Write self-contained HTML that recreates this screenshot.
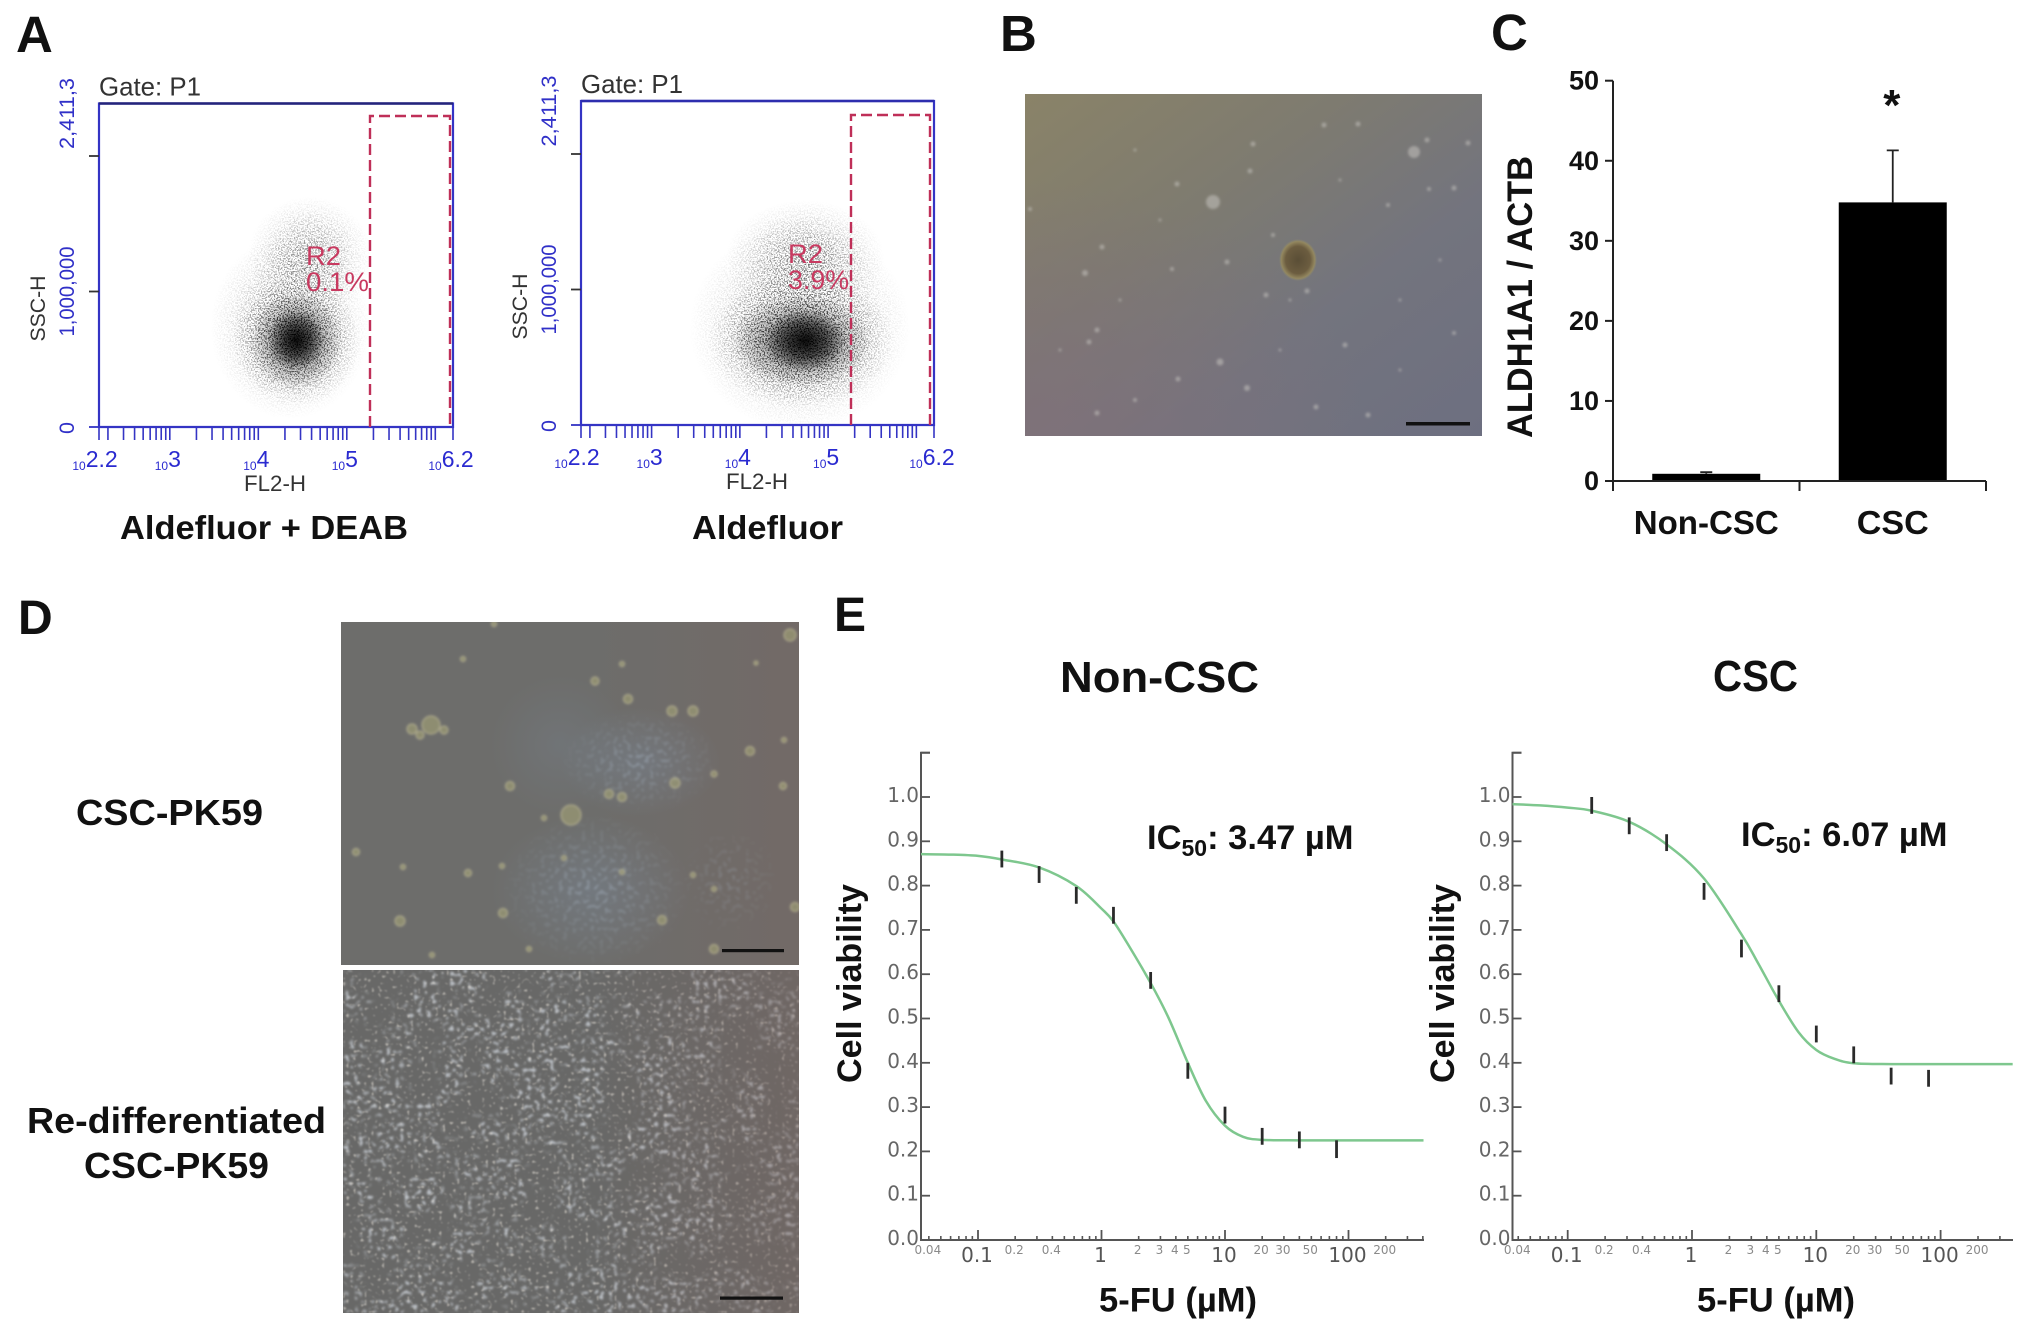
<!DOCTYPE html>
<html lang="en">
<head>
<meta charset="utf-8">
<title>Aldefluor, sphere formation, ALDH1A1 and 5-FU viability figure</title>
<style>
html,body{margin:0;padding:0;background:#fff}
svg{display:block}
text{font-family:"Liberation Sans",sans-serif}
.b{font-weight:bold;fill:#111}
.dj{font-family:"DejaVu Sans",sans-serif}
</style>
</head>
<body>
<svg id="fig" xmlns="http://www.w3.org/2000/svg" width="2031" height="1338" viewBox="0 0 2031 1338">
<defs>
  <radialGradient id="blob"><stop offset="0" stop-color="#000" stop-opacity="1"/><stop offset=".5" stop-color="#000" stop-opacity=".6"/><stop offset="1" stop-color="#000" stop-opacity="0"/></radialGradient>
  <radialGradient id="softBlob"><stop offset="0" stop-color="#000" stop-opacity="1"/><stop offset=".45" stop-color="#000" stop-opacity=".55"/><stop offset=".75" stop-color="#000" stop-opacity=".18"/><stop offset="1" stop-color="#000" stop-opacity="0"/></radialGradient>
  <filter id="grain" x="0" y="0" width="2031" height="600" filterUnits="userSpaceOnUse">
    <feTurbulence type="fractalNoise" baseFrequency="0.7" numOctaves="2" seed="7" result="n"/>
    <feColorMatrix in="n" type="matrix" values="0 0 0 0 0 0 0 0 0 0 0 0 0 0 0 8 0 0 0 -3.9" result="m"/>
    <feComposite in="SourceGraphic" in2="m" operator="in"/>
  </filter>
  <linearGradient id="bBase" x1="0" y1="0" x2="1" y2="1">
    <stop offset="0" stop-color="#8a8368"/><stop offset=".35" stop-color="#7e7b70"/><stop offset=".65" stop-color="#73747e"/><stop offset="1" stop-color="#6d6f80"/>
  </linearGradient>
  <radialGradient id="bLeft" cx="0" cy="1" r=".75"><stop offset="0" stop-color="#80707a" stop-opacity=".8"/><stop offset="1" stop-color="#80707a" stop-opacity="0"/></radialGradient>
  <radialGradient id="sphere"><stop offset="0" stop-color="#5a4e36"/><stop offset=".65" stop-color="#6c5d40"/><stop offset=".88" stop-color="#93875f"/><stop offset="1" stop-color="#8c8a70" stop-opacity="0"/></radialGradient>
  <radialGradient id="patch"><stop offset="0" stop-color="#7c8a9c" stop-opacity=".4"/><stop offset="1" stop-color="#7c8a9c" stop-opacity="0"/></radialGradient>
  <radialGradient id="patchBright"><stop offset="0" stop-color="#aebccb" stop-opacity=".85"/><stop offset=".5" stop-color="#aebccb" stop-opacity=".45"/><stop offset="1" stop-color="#aebccb" stop-opacity="0"/></radialGradient>
  <linearGradient id="dEdge" x1="0" y1="0" x2="1" y2="0"><stop offset=".55" stop-color="#7a6560" stop-opacity="0"/><stop offset="1" stop-color="#7a6560" stop-opacity=".4"/></linearGradient>
  <filter id="soft" x="-5%" y="-5%" width="110%" height="110%"><feGaussianBlur stdDeviation="1.2"/></filter>
  <filter id="cellsA" x="343" y="970" width="456" height="343" filterUnits="userSpaceOnUse">
    <feTurbulence type="fractalNoise" baseFrequency="0.22" numOctaves="1" seed="11" result="hi"/>
    <feColorMatrix in="hi" type="matrix" values="0 0 0 0 .68 0 0 0 0 .72 0 0 0 0 .78 7 0 0 0 -3.9" result="dots"/>
    <feTurbulence type="fractalNoise" baseFrequency="0.025" numOctaves="2" seed="3" result="lo"/>
    <feColorMatrix in="lo" type="matrix" values="0 0 0 0 1 0 0 0 0 1 0 0 0 0 1 5 0 0 0 -1.9" result="mask"/>
    <feComposite in="dots" in2="mask" operator="in" result="c"/>
    <feGaussianBlur in="c" stdDeviation="1"/>
  </filter>
  <filter id="cellsB" x="343" y="970" width="456" height="343" filterUnits="userSpaceOnUse">
    <feTurbulence type="fractalNoise" baseFrequency="0.28" numOctaves="1" seed="23"/>
    <feColorMatrix type="matrix" values="0 0 0 0 .76 0 0 0 0 .72 0 0 0 0 .66 8 0 0 0 -5.0"/>
    <feGaussianBlur stdDeviation="0.8"/>
  </filter>
  <filter id="cellsC" x="341" y="622" width="458" height="343" filterUnits="userSpaceOnUse">
    <feTurbulence type="fractalNoise" baseFrequency="0.22" numOctaves="1" seed="5" result="n"/>
    <feColorMatrix in="n" type="matrix" values="0 0 0 0 0 0 0 0 0 0 0 0 0 0 0 7 0 0 0 -3.7" result="m"/>
    <feComposite in="SourceGraphic" in2="m" operator="in" result="c"/>
    <feGaussianBlur in="c" stdDeviation="1"/>
  </filter>
  <clipPath id="clipDTop"><rect x="341" y="622" width="458" height="343"/></clipPath>
  <clipPath id="clipB"><rect x="1025" y="94" width="457" height="342"/></clipPath>
</defs>

<rect width="2031" height="1338" fill="#fff"/>

<text class="b" x="16" y="52" font-size="51">A</text>
<text class="b" x="1000" y="51" font-size="51">B</text>
<text class="b" x="1491" y="50" font-size="51">C</text>
<text class="b" x="18" y="634" font-size="48">D</text>
<text class="b" x="834" y="631" font-size="48">E</text>

<g id="panelA"></g>
<text class="b" x="120" y="539" font-size="33" textLength="288" lengthAdjust="spacingAndGlyphs">Aldefluor + DEAB</text>
<text class="b" x="692" y="539" font-size="33" textLength="151" lengthAdjust="spacingAndGlyphs">Aldefluor</text>

<g id="panelB" clip-path="url(#clipB)">
  <rect x="1025" y="94" width="457" height="342" fill="url(#bBase)"/>
  <rect x="1025" y="94" width="457" height="342" fill="url(#bLeft)"/>
  <g id="bSpots" filter="url(#soft)"></g>
  <ellipse cx="1298" cy="260" rx="19" ry="21" fill="url(#sphere)"/>
  <rect x="1406" y="422" width="64" height="3.5" fill="#111"/>
</g>

<g id="panelC"></g>

<text class="b" x="76" y="825" font-size="36" textLength="187" lengthAdjust="spacingAndGlyphs">CSC-PK59</text>
<text class="b" x="27" y="1133" font-size="36" textLength="299" lengthAdjust="spacingAndGlyphs">Re-differentiated</text>
<text class="b" x="84" y="1178" font-size="36" textLength="185" lengthAdjust="spacingAndGlyphs">CSC-PK59</text>

<g id="panelDTop" clip-path="url(#clipDTop)">
  <rect x="341" y="622" width="458" height="343" fill="#6d6d6b"/>
  <rect x="341" y="622" width="458" height="343" fill="url(#dEdge)"/>
  <ellipse cx="591" cy="890" rx="100" ry="75" fill="url(#patch)"/>
  <ellipse cx="640" cy="762" rx="80" ry="55" fill="url(#patch)"/>
  <ellipse cx="560" cy="745" rx="70" ry="70" fill="url(#patch)" opacity=".6"/>
  <g filter="url(#cellsC)" opacity=".42">
    <ellipse cx="595" cy="890" rx="95" ry="78" fill="url(#patchBright)"/>
    <ellipse cx="640" cy="762" rx="80" ry="50" fill="url(#patchBright)"/>
    <ellipse cx="730" cy="880" rx="50" ry="55" fill="url(#patchBright)" opacity=".6"/>
  </g>
  <g id="dSpots" filter="url(#soft)"></g>
  <rect x="722" y="949" width="62" height="3.2" fill="#111"/>
</g>

<g id="panelDBottom">
  <rect x="343" y="970" width="456" height="343" fill="#686867"/>
  <rect x="343" y="970" width="456" height="343" fill="#fff" filter="url(#cellsA)" opacity=".75"/>
  <rect x="343" y="970" width="456" height="343" fill="#fff" filter="url(#cellsB)" opacity=".6"/>
  <rect x="343" y="970" width="456" height="343" fill="url(#dEdge)"/>
  <rect x="720" y="1296.5" width="63" height="3.2" fill="#111"/>
</g>

<g id="panelE"></g>

<script>
/* ---------- Panel A data ---------- */
var flowDecades = [2, 3, 4, 5, 6];
var flowMultipliers = [1, 2, 3, 4, 5, 6, 7, 8, 9];
var flowDecadeLabels = ['2.2', '3', '4', '5', '6.2'];
var flowDecadeLabelPowers = [2.2, 3, 4, 5, 6.2];
var flowSscTicks = [0, 1000000, 2000000];
/* clusters: log10 FL2, SSC, log span, SSC span, density, grainy(1)/solid(0) */
var flowClustersDeab = [
  [4.36, 740000, 0.90, 680000, 0.55, 1],
  [4.58, 1260000, 0.70, 440000, 0.50, 1],
  [4.43, 640000, 0.72, 480000, 0.95, 1],
  [4.43, 640000, 0.52, 360000, 0.45, 0],
  [4.43, 640000, 0.32, 220000, 0.90, 0]
];
var flowClustersAldefluor = [
  [4.68, 720000, 1.25, 760000, 0.55, 1],
  [4.74, 1230000, 0.90, 430000, 0.50, 1],
  [4.70, 620000, 1.05, 500000, 0.95, 1],
  [4.70, 620000, 0.78, 340000, 0.45, 0],
  [4.74, 620000, 0.46, 230000, 0.90, 0]
];

/* ---------- Panel C data ---------- */
var barCategories = ['Non-CSC', 'CSC'];
var barValues = [0.9, 34.8];
var barErrors = [0.2, 6.5];
var barTicks = [0, 10, 20, 30, 40, 50];

/* ---------- Panel E data ---------- */
var viabilityTicks = [0, 0.1, 0.2, 0.3, 0.4, 0.5, 0.6, 0.7, 0.8, 0.9, 1.0, 1.1];
var viabilityTickLabels = ['0.0', '0.1', '0.2', '0.3', '0.4', '0.5', '0.6', '0.7', '0.8', '0.9', '1.0', ''];
var doseDecades = [-2, -1, 0, 1, 2];
var doseMultipliers = [1, 2, 3, 4, 5, 6, 7, 8, 9];
var doseMajorLabels = [0.1, 1, 10, 100];
var doseMajorText = ['0.1', '1', '10', '100'];
var doseMinorLabels = [0.04, 0.2, 0.4, 2, 3, 4, 5, 20, 30, 50, 200];
var doseMinorText = ['0.04', '0.2', '0.4', '2', '3', '4', '5', '20', '30', '50', '200'];
var measuredDoses = [0.156, 0.3125, 0.625, 1.25, 2.5, 5, 10, 20, 40, 80];
var nonCscMeans = [0.860, 0.825, 0.778, 0.733, 0.586, 0.382, 0.282, 0.234, 0.226, 0.205];
var nonCscErr = [0.019, 0.019, 0.019, 0.019, 0.019, 0.018, 0.019, 0.019, 0.019, 0.020];
var nonCscCurveDoses = [0.034, 0.06, 0.1, 0.156, 0.3125, 0.625, 1, 1.25, 1.7, 2.5, 3.47, 5, 7, 10, 14, 20, 40, 100, 405];
var nonCscCurve = [0.871, 0.870, 0.867, 0.859, 0.841, 0.799, 0.748, 0.719, 0.660, 0.580, 0.503, 0.400, 0.314, 0.258, 0.233, 0.226, 0.225, 0.225, 0.225];
var cscMeans = [0.981, 0.935, 0.897, 0.787, 0.658, 0.556, 0.465, 0.418, 0.370, 0.365];
var cscErr = [0.019, 0.019, 0.019, 0.019, 0.020, 0.019, 0.019, 0.019, 0.019, 0.019];
var cscCurveDoses = [0.035, 0.06, 0.1, 0.156, 0.3125, 0.625, 1.25, 2.5, 3.4, 5, 7.2, 10, 14, 20, 40, 100, 380];
var cscCurve = [0.984, 0.981, 0.976, 0.969, 0.944, 0.893, 0.816, 0.690, 0.625, 0.540, 0.469, 0.429, 0.409, 0.399, 0.397, 0.397, 0.397];

var NS = 'http://www.w3.org/2000/svg';
function add(parent, tag, attrs, text) {
  var el = document.createElementNS(NS, tag);
  for (var k in attrs) el.setAttribute(k, attrs[k]);
  if (text !== undefined) el.textContent = text;
  parent.appendChild(el);
  return el;
}
function lg(v) { return Math.log(v) / Math.LN10; }

/* ---------- Panel A ---------- */
function drawFlow(p) {
  var g = document.getElementById('panelA');
  var xF = function (l) { return p.x0 + (l - 2.2) * (p.x1 - p.x0) / 4; };
  var yF = function (s) { return p.y0 - s / 1000000 * 135.5; };
  var BLUE = '#3434c4';
  var cloud = add(g, 'g', {});
  
  
  var grainy = add(cloud, 'g', { filter: 'url(#grain)' });
  
  
  var solid = add(cloud, 'g', {});
  
  
  p.clusters.forEach(function (c) {
    var e = add(c[5] ? grainy : solid, 'ellipse', {
      cx: xF(c[0]), cy: yF(c[1]),
      rx: c[2] * (p.x1 - p.x0) / 4, ry: c[3] / 1000000 * 135.5,
      fill: c[5] ? 'url(#softBlob)' : 'url(#blob)', opacity: c[4]
    });
    
    
  });
  var frame = add(g, 'path', {
    d: 'M' + p.x0 + ' ' + p.y0 + 'V' + p.yTop + 'H' + p.x1 + 'V' + p.y0 + 'Z',
    fill: 'none', stroke: BLUE, 'stroke-width': 2.2
  });
  
  
  var top = add(g, 'line', { x1: p.x0, x2: p.x1, y1: p.yTop, y2: p.yTop, stroke: p.topColor, 'stroke-width': 2.6 });
  
  
  var gate = add(g, 'path', {
    d: 'M' + p.gx0 + ' ' + p.y0 + 'V' + p.gy + 'H' + p.gx1 + 'V' + p.y0,
    fill: 'none', stroke: '#bf2f58', 'stroke-width': 2.4, 'stroke-dasharray': '11 5'
  });
  
  
  flowDecades.forEach(function (d) {
    flowMultipliers.forEach(function (m) {
      var v = m * Math.pow(10, d), l = lg(v);
      if (l < 2.2 || l > 6.2) return;
      var t = add(g, 'line', { x1: xF(l), x2: xF(l), y1: p.y0, y2: p.y0 + 13, stroke: BLUE, 'stroke-width': 1.6 });
      
      
    });
  });
  [2.2, 6.2].forEach(function (l) {
    var t = add(g, 'line', { x1: xF(l), x2: xF(l), y1: p.y0, y2: p.y0 + 13, stroke: BLUE, 'stroke-width': 1.6 });
    
    
  });
  flowSscTicks.forEach(function (s) {
    var t = add(g, 'line', { x1: p.x0 - 10, x2: p.x0, y1: yF(s), y2: yF(s), stroke: s === 0 ? BLUE : '#333', 'stroke-width': 1.8 });
    
    
  });
  flowDecadeLabels.forEach(function (txt, i) {
    var l = flowDecadeLabelPowers[i];
    var cx = xF(l) + (i === 0 ? -4 : -2);
    var wrap = add(g, 'text', { x: cx, y: p.y0 + 40, 'text-anchor': 'middle', fill: '#2a2ad0', 'font-size': 23 });
    
    
    var a = add(wrap, 'tspan', { 'font-size': 12, dy: 3 }, '10');
    
    
    var b = add(wrap, 'tspan', { dy: -3 }, txt);
    
    
  });
  var rot = function (txt, x, y, len, color, name) {
    var t = add(g, 'text', {
      x: 0, y: 0, transform: 'translate(' + x + ' ' + y + ') rotate(-90)',
      'text-anchor': 'middle', fill: color, 'font-size': 21,
      textLength: len, lengthAdjust: 'spacingAndGlyphs'
    }, txt);
    
    
  };
  var tx = p.x0 - 25;
  rot('2,411,3', tx, p.yTop + 10, 71, '#3030c8', 'y-max-label');
  rot('1,000,000', tx, yF(1000000), 90, '#3030c8', 'y-mid-label');
  rot('0', tx, yF(0) + 1, 12, '#3030c8', 'y-zero-label');
  rot('SSC-H', p.x0 - 54, yF(1000000) + 17, 66, '#333', 'y-axis-title');
  var fl = add(g, 'text', { x: p.x0 + 176, y: p.y0 + 64, 'text-anchor': 'middle', fill: '#333', 'font-size': 22, textLength: 62, lengthAdjust: 'spacingAndGlyphs' }, 'FL2-H');
  
  
  var gateTxt = add(g, 'text', { x: p.x0, y: p.yTop - 8, fill: '#333', 'font-size': 26, textLength: 102, lengthAdjust: 'spacingAndGlyphs' }, 'Gate: P1');
  
  
  var r2 = add(g, 'text', { x: p.rx, y: p.ry, fill: '#c83a60', 'font-size': 27, textLength: 35, lengthAdjust: 'spacingAndGlyphs' }, 'R2');
  
  
  var pct = add(g, 'text', { x: p.rx, y: p.ry + 26, fill: '#c83a60', 'font-size': 27, textLength: p.pctW, lengthAdjust: 'spacingAndGlyphs' }, p.pct);
  
  
}
drawFlow({ id: 'deab', clusters: flowClustersDeab, x0: 99, x1: 453, y0: 427, yTop: 103.5, gx0: 370, gx1: 450, gy: 116, topColor: '#24247a', rx: 306, ry: 265, pct: '0.1%', pctW: 63 });
drawFlow({ id: 'aldefluor', clusters: flowClustersAldefluor, x0: 581, x1: 934, y0: 425, yTop: 101, gx0: 851, gx1: 930, gy: 115, topColor: '#2d2dae', rx: 788, ry: 263, pct: '3.9%', pctW: 61 });

/* ---------- Panel B & D textures (photographic debris, not chart data) ---------- */
var bSpotList = [[1213,202,7],[1414,152,6],[1324,125,2.5],[1358,124,2.5],[1253,144,2.5],[1427,140,2.5],[1468,143,2.5],[1177,184,2.5],[1250,171,2.5],[1454,188,2.5],[1429,189,2],[1102,247,2.5],[1085,273,3],[1227,262,2.5],[1172,269,2],[1097,330,2.5],[1089,342,2.5],[1220,362,3.5],[1345,345,2.5],[1178,379,2.5],[1247,388,3],[1316,407,2.5],[1097,413,2.5],[1368,415,2.5],[1135,400,2],[1266,295,2.5],[1307,291,2.5],[1273,235,2],[1388,205,2],[1030,209,2],[1454,333,2],[1290,300,1.5],[1135,150,1.5],[1400,300,1.5],[1060,350,1.5],[1160,220,1.5],[1340,180,1.5],[1440,260,1.5],[1120,300,1.5],[1280,350,1.5],[1400,370,1.5]];
var bg = document.getElementById('bSpots');
bSpotList.forEach(function (s) {
  var c = add(bg, 'circle', { cx: s[0], cy: s[1], r: s[2], fill: '#c4c3bd', opacity: .55 });
  
  
});
var dSpotList = [[431,725,9],[412,729,5],[420,735,4],[444,730,4],[571,815,10],[510,786,4.5],[595,681,4],[628,699,4.5],[672,711,5],[693,711,5],[750,751,4.5],[783,786,3.5],[675,783,5],[609,794,4.5],[622,797,4.5],[714,774,3],[790,635,6],[544,818,2.5],[468,873,3.5],[502,866,2.5],[403,867,2.5],[356,852,3.5],[503,913,4.5],[400,921,5],[662,920,4.5],[714,949,4.5],[795,907,4.5],[529,949,2.5],[622,872,2.5],[693,875,2.5],[714,889,2.5],[564,858,2.5],[784,740,2.5],[463,659,2.5],[622,664,2.5],[756,663,2],[494,624,2.5],[432,955,2.5]];
var dg = document.getElementById('dSpots');
dSpotList.forEach(function (s) {
  var c = add(dg, 'circle', { cx: s[0], cy: s[1], r: s[2], fill: '#9c9a74', stroke: '#c4bf98', 'stroke-width': 1.2, opacity: .72 });
  
  
});

/* ---------- Panel C ---------- */
(function () {
  var g = document.getElementById('panelC');
  var X0 = 1613, X1 = 1986, Y0 = 481, YTOP = 80.7, VMAX = 50;
  var yS = function (v) { return Y0 - v * (Y0 - YTOP) / VMAX; };
  var band = (X1 - X0) / barCategories.length;
  var xS = function (i) { return X0 + band * (i + 0.5); };
  var BW = 108;
  barCategories.forEach(function (c, i) {
    var er = add(g, 'path', {
      d: 'M' + xS(i) + ' ' + yS(barValues[i]) + 'V' + yS(barValues[i] + barErrors[i]) + 'm-6 0h12',
      stroke: '#222', 'stroke-width': 1.8, fill: 'none'
    });
    
    
    var r = add(g, 'rect', { x: xS(i) - BW / 2, y: yS(barValues[i]), width: BW, height: Y0 - yS(barValues[i]), fill: '#000' });
    
    
    var l = add(g, 'text', { class: 'b', x: xS(i), y: 534, 'text-anchor': 'middle', 'font-size': 33, textLength: i === 0 ? 145 : 72, lengthAdjust: 'spacingAndGlyphs' }, c);
    
    
  });
  var ya = add(g, 'line', { x1: X0, x2: X0, y1: YTOP, y2: 491, stroke: '#222', 'stroke-width': 2 });
  
  
  var xa = add(g, 'line', { x1: X0, x2: X1, y1: Y0, y2: Y0, stroke: '#222', 'stroke-width': 2 });
  
  
  [0, 1, 2].forEach(function (i) {
    var x = X0 + band * i;
    var t = add(g, 'line', { x1: x, x2: x, y1: Y0, y2: 491, stroke: '#222', 'stroke-width': 2 });
    
    
  });
  barTicks.forEach(function (v) {
    var t = add(g, 'line', { x1: X0 - 8, x2: X0, y1: yS(v), y2: yS(v), stroke: '#222', 'stroke-width': 2 });
    
    
    var l = add(g, 'text', { class: 'b', x: X0 - 14, y: yS(v) + 9, 'text-anchor': 'end', 'font-size': 27 }, String(v));
    
    
  });
  var st = add(g, 'text', { class: 'b', x: xS(1) - 1, y: 120, 'text-anchor': 'middle', 'font-size': 44 }, '*');
  
  
  var yt = add(g, 'text', { class: 'b', x: 0, y: 0, transform: 'translate(1532 438) rotate(-90)', 'font-size': 35, textLength: 282, lengthAdjust: 'spacingAndGlyphs' }, 'ALDH1A1 / ACTB');
  
  
})();

/* ---------- Panel E ---------- */
function smoothPath(pts) {
  var d = 'M' + pts[0][0].toFixed(2) + ' ' + pts[0][1].toFixed(2);
  for (var i = 0; i < pts.length - 1; i++) {
    var p0 = pts[Math.max(0, i - 1)], p1 = pts[i], p2 = pts[i + 1], p3 = pts[Math.min(pts.length - 1, i + 2)];
    var c1x = p1[0] + (p2[0] - p0[0]) / 6, c1y = p1[1] + (p2[1] - p0[1]) / 6;
    var c2x = p2[0] - (p3[0] - p1[0]) / 6, c2y = p2[1] - (p3[1] - p1[1]) / 6;
    d += 'C' + c1x.toFixed(2) + ' ' + c1y.toFixed(2) + ' ' + c2x.toFixed(2) + ' ' + c2y.toFixed(2) + ' ' + p2[0].toFixed(2) + ' ' + p2[1].toFixed(2);
  }
  return d;
}
function drawViability(p) {
  var g = document.getElementById('panelE');
  var root = add(g, 'g', {});
  
  
  var Y0 = 1240, PER = 443;
  var yS = function (v) { return Y0 - v * PER; };
  var xS = function (d) { return p.x1dose + lg(d) * p.decade; };
  var AX = '#555';
  var xa = add(root, 'path', { d: 'M' + (p.left + 9) + ' ' + yS(1.1) + 'H' + p.left + 'V' + Y0 + 'H' + p.right, fill: 'none', stroke: AX, 'stroke-width': 2 });
  
  
  viabilityTicks.forEach(function (v, i) {
    var t = add(root, 'line', { x1: p.left, x2: p.left + 9, y1: yS(v), y2: yS(v), stroke: AX, 'stroke-width': 1.8 });
    
    
    if (viabilityTickLabels[i]) {
      var l = add(root, 'text', { class: 'dj', x: p.left - 2, y: yS(v) + 5, 'text-anchor': 'end', fill: '#666', 'font-size': 20 }, viabilityTickLabels[i]);
      
      
    }
  });
  doseDecades.forEach(function (dec) {
    doseMultipliers.forEach(function (m) {
      var d = m * Math.pow(10, dec), x = xS(d);
      if (x <= p.left || x >= p.right) return;
      var t = add(root, 'line', { x1: x, x2: x, y1: Y0, y2: Y0 - (m === 1 ? 10 : 4), stroke: AX, 'stroke-width': m === 1 ? 1.8 : 1.6 });
      
      
    });
  });
  doseMajorLabels.forEach(function (d, i) {
    var l = add(root, 'text', { class: 'dj', x: xS(d) - 1, y: 1262, 'text-anchor': 'middle', fill: '#555', 'font-size': 20 }, doseMajorText[i]);
    
    
  });
  doseMinorLabels.forEach(function (d, i) {
    var l = add(root, 'text', { class: 'dj', x: xS(d) - 1, y: 1254, 'text-anchor': 'middle', fill: '#8a8a8a', 'font-size': 12 }, doseMinorText[i]);
    
    
  });
  var pts = p.curveDoses.map(function (d, i) { return [Math.max(p.left, Math.min(p.right, xS(d))), yS(p.curve[i])]; });
  var c = add(root, 'path', { d: smoothPath(pts), fill: 'none', stroke: '#7ec78e', 'stroke-width': 2.5 });
  
  
  measuredDoses.forEach(function (d, i) {
    var m = add(root, 'line', { x1: xS(d), x2: xS(d), y1: yS(p.means[i] + p.err[i]), y2: yS(p.means[i] - p.err[i]), stroke: '#2a2a2a', 'stroke-width': 2.8 });
    
    
  });
  var title = add(root, 'text', { class: 'b', x: p.tx, y: p.ty, 'font-size': 44, textLength: p.tw, lengthAdjust: 'spacingAndGlyphs' }, p.title);
  
  
  var yt = add(root, 'text', { class: 'b', x: 0, y: 0, transform: 'translate(' + p.ytx + ' 1083) rotate(-90)', 'font-size': 34, textLength: 199, lengthAdjust: 'spacingAndGlyphs' }, 'Cell viability');
  
  
  var xt = add(root, 'text', { class: 'b', x: p.xtx, y: 1311.5, 'font-size': 34, textLength: 158, lengthAdjust: 'spacingAndGlyphs' }, '5-FU (µM)');
  
  
  var ic = add(root, 'text', { class: 'b', x: p.icx, y: p.icy, 'font-size': 34.5 });
  
  
  var a = add(ic, 'tspan', {}, 'IC');
  
  
  var b = add(ic, 'tspan', { 'font-size': 23, dy: 7 }, '50');
  
  
  var v = add(ic, 'tspan', { dy: -7 }, p.ic);
  
  
}
drawViability({ id: 'non-csc', title: 'Non-CSC', tx: 1060, ty: 692, tw: 199, left: 921, right: 1424, x1dose: 1101.5, decade: 123.5, curveDoses: nonCscCurveDoses, curve: nonCscCurve, means: nonCscMeans, err: nonCscErr, ytx: 861, xtx: 1099, icx: 1147, icy: 849, ic: ': 3.47 µM' });
drawViability({ id: 'csc', title: 'CSC', tx: 1713, ty: 691, tw: 85, left: 1512.5, right: 2013, x1dose: 1692, decade: 124.3, curveDoses: cscCurveDoses, curve: cscCurve, means: cscMeans, err: cscErr, ytx: 1454, xtx: 1697, icx: 1741, icy: 846, ic: ': 6.07 µM' });
</script>
</svg>
</body>
</html>
